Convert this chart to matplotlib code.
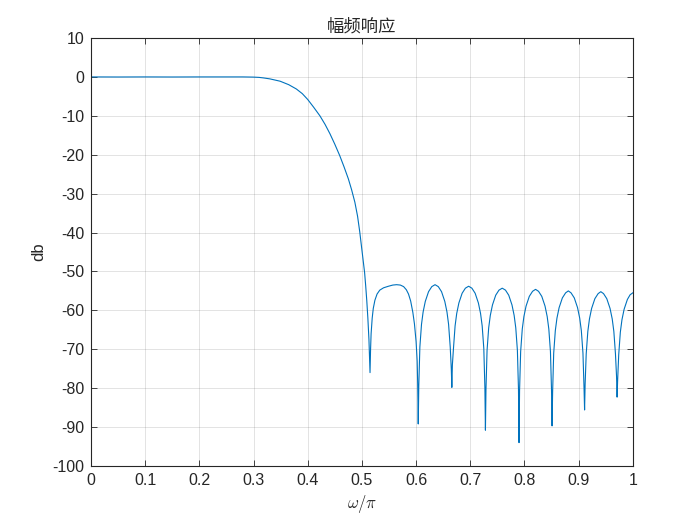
import numpy as np
import matplotlib
matplotlib.use('Agg')
import matplotlib.pyplot as plt

# Risposta in ampiezza
w_pass = [0.0, 0.05, 0.1, 0.15, 0.2, 0.25, 0.28, 0.30]
db_pass = [0.0, -0.02, 0.0, -0.02, 0.0, -0.01, 0.0, -0.05]

w_trans = [0.31, 0.318, 0.33, 0.349, 0.365, 0.379, 0.39, 0.40, 0.411, 0.4225,
           0.432, 0.441, 0.450, 0.459, 0.467, 0.475, 0.481, 0.487, 0.492,
           0.496, 0.499, 0.502, 0.505, 0.507, 0.509, 0.511, 0.513, 0.515]
db_trans = [-0.12, -0.25, -0.5, -1.1, -2.0, -3.1, -4.3, -5.8, -7.8, -10.0,
            -12.2, -14.6, -17.3, -20.2, -23.1, -26.2, -29.0, -32.2, -35.8,
            -39.8, -43.2, -46.8, -50.3, -53.7, -57.5, -62.0, -67.5, -76.0]

w_stop = [0.516, 0.517, 0.519, 0.521, 0.524, 0.528, 0.533, 0.540, 0.549, 0.557,
          0.564, 0.571, 0.577, 0.582, 0.586, 0.590, 0.594, 0.597, 0.600, 0.602,
          0.603, 0.604,
          0.605, 0.607, 0.610, 0.613, 0.617, 0.623, 0.629, 0.635, 0.641, 0.647,
          0.653, 0.657, 0.660, 0.663, 0.665, 0.666,
          0.667, 0.669, 0.672, 0.675, 0.679, 0.685, 0.691, 0.697, 0.703, 0.709,
          0.715, 0.719, 0.722, 0.725, 0.727, 0.728,
          0.729, 0.731, 0.734, 0.737, 0.741, 0.747, 0.753, 0.759, 0.765, 0.771,
          0.777, 0.781, 0.784, 0.787, 0.789, 0.790,
          0.791, 0.793, 0.796, 0.799, 0.803, 0.809, 0.815, 0.8205, 0.826, 0.832,
          0.838, 0.842, 0.845, 0.848, 0.850, 0.851,
          0.852, 0.854, 0.857, 0.860, 0.864, 0.870, 0.876, 0.881, 0.886, 0.892,
          0.898, 0.902, 0.905, 0.908, 0.910, 0.911,
          0.912, 0.914, 0.917, 0.920, 0.924, 0.930, 0.936, 0.941, 0.946, 0.952,
          0.958, 0.962, 0.965, 0.968, 0.970, 0.971,
          0.972, 0.974, 0.977, 0.980, 0.984, 0.990, 0.995, 1.000]
db_stop = [-70.0, -66.0, -62.0, -59.5, -57.4, -55.8, -54.8, -54.2, -53.8, -53.5,
           -53.4, -53.5, -53.9, -54.7, -55.8, -57.6, -60.5, -63.5, -68.0, -73.0,
           -79.0, -89.2,
           -79.4, -69.4, -63.6, -60.4, -57.7, -55.2, -53.9, -53.4, -53.9, -55.2,
           -57.7, -60.4, -63.6, -69.4, -75.0, -79.8,
           -74.0, -69.8, -64.0, -60.8, -58.1, -55.6, -54.3, -53.8, -54.3, -55.6,
           -58.1, -60.8, -64.0, -69.8, -79.8, -90.8,
           -80.3, -70.3, -64.5, -61.3, -58.6, -56.1, -54.8, -54.3, -54.8, -56.1,
           -58.6, -61.3, -64.5, -70.3, -80.3, -94.0,
           -80.6, -70.6, -64.8, -61.6, -58.9, -56.4, -55.1, -54.6, -55.1, -56.4,
           -58.9, -61.6, -64.8, -70.6, -80.6, -89.7,
           -81.0, -71.0, -65.2, -62.0, -59.3, -56.8, -55.5, -55.0, -55.5, -56.8,
           -59.3, -62.0, -65.2, -71.0, -80.0, -85.6,
           -79.0, -71.2, -65.4, -62.2, -59.5, -57.0, -55.7, -55.2, -55.7, -57.0,
           -59.5, -62.2, -65.4, -71.2, -77.0, -82.3,
           -78.0, -71.4, -65.6, -62.4, -59.7, -57.2, -56.0, -55.5]

w = np.array(w_pass + w_trans + w_stop)
db = np.array(db_pass + db_trans + db_stop)

plt.rcParams['font.family'] = ['Liberation Sans', 'Noto Sans CJK SC', 'DejaVu Sans']
plt.rcParams['mathtext.fontset'] = 'cm'
plt.rcParams['axes.unicode_minus'] = False

fig = plt.figure(figsize=(7, 5.25), dpi=100)
ax = fig.add_axes([0.13, 0.1124, 0.774, 0.8152])

ax.plot(w, db, color='#0072BD', lw=0.8)

ax.set_xlim(0, 1)
ax.set_ylim(-100, 10)
ax.set_xticks(np.arange(0, 1.01, 0.1))
ax.set_xticklabels(['0', '0.1', '0.2', '0.3', '0.4', '0.5', '0.6', '0.7', '0.8', '0.9', '1'])
ax.set_yticks(np.arange(-100, 11, 10))
ax.grid(True, color='#262626', alpha=0.15, lw=0.6)
ax.tick_params(direction='in', top=True, right=True, labelsize=11.5,
               colors='#262626', length=4, width=0.6, pad=5)
for s in ax.spines.values():
    s.set_color('#262626')
    s.set_linewidth(0.8)

ax.set_title('幅频响应', fontsize=12.5, color='#262626',
             family=['Noto Sans CJK SC', 'DejaVu Sans'], pad=5)
ax.set_xlabel(r'$\omega/\pi$', fontsize=12, color='#262626')
ax.set_ylabel('db', fontsize=12, color='#262626')

fig.savefig('out.png', dpi=100)
